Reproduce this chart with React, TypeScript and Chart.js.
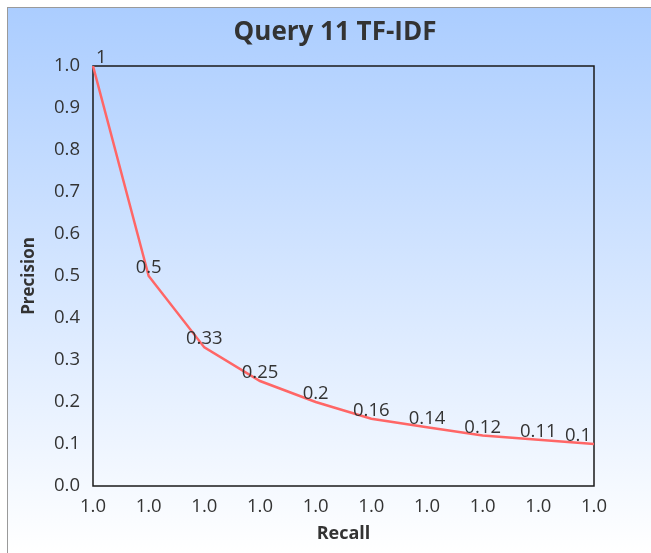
import React, { useEffect, useRef } from "react";
import { Chart, registerables } from "chart.js";

Chart.register(...registerables);

const chartTitle = "Query 11 TF-IDF";
const recallLabels = ["1.0", "1.0", "1.0", "1.0", "1.0", "1.0", "1.0", "1.0", "1.0", "1.0"];
const precisionValues = [1, 0.5, 0.33, 0.25, 0.2, 0.16, 0.14, 0.12, 0.11, 0.1];
const precisionText = ["1", "0.5", "0.33", "0.25", "0.2", "0.16", "0.14", "0.12", "0.11", "0.1"];

const FONT = "'Open Sans', 'Noto Sans', sans-serif";
const TEXT = "#333333";
const LABEL_SIZE = 18.5;

// Frame around the plotting area
const plotFrame = {
  id: "plotFrame",
  beforeDatasetsDraw(chart: any) {
    const { ctx, chartArea } = chart;
    ctx.save();
    ctx.strokeStyle = "#1a1a1a";
    ctx.lineWidth = 1.5;
    ctx.strokeRect(chartArea.left, chartArea.top, chartArea.right - chartArea.left, chartArea.bottom - chartArea.top);
    ctx.restore();
  },
};

// Title centred over the canvas
const titleText = {
  id: "titleText",
  afterDraw(chart: any) {
    const { ctx } = chart;
    ctx.save();
    ctx.font = `bold 26px ${FONT}`;
    ctx.fillStyle = TEXT;
    ctx.textAlign = "center";
    ctx.textBaseline = "alphabetic";
    ctx.fillText(chartTitle, 327, 32);
    ctx.restore();
  },
};

// Value labels above each point, kept inside the plot horizontally
const pointLabels = {
  id: "pointLabels",
  afterDatasetsDraw(chart: any) {
    const { ctx, chartArea } = chart;
    const meta = chart.getDatasetMeta(0);
    ctx.save();
    ctx.font = `${LABEL_SIZE}px ${FONT}`;
    ctx.fillStyle = TEXT;
    ctx.textAlign = "center";
    ctx.textBaseline = "alphabetic";
    meta.data.forEach((pt: any, i: number) => {
      const txt = precisionText[i];
      const w = ctx.measureText(txt).width;
      let x = pt.x;
      x = Math.max(x, chartArea.left + 3 + w / 2);
      x = Math.min(x, chartArea.right - 3 - w / 2);
      ctx.fillText(txt, x, pt.y - 3);
    });
    ctx.restore();
  },
};

export default function App() {
  const canvasRef = useRef<HTMLCanvasElement | null>(null);

  useEffect(() => {
    if (!canvasRef.current) return;
    const chart = new Chart(canvasRef.current, {
      type: "line",
      data: {
        labels: recallLabels,
        datasets: [
          {
            data: precisionValues,
            borderColor: "rgb(255, 102, 102)",
            borderWidth: 2.5,
            pointRadius: 0,
            tension: 0,
            fill: false,
          },
        ],
      },
      options: {
        animation: false,
        responsive: false,
        maintainAspectRatio: false,
        layout: { padding: { top: 58, right: 57, left: 0, bottom: 0 } },
        plugins: {
          legend: { display: false },
          tooltip: { enabled: false },
          title: { display: false },
        },
        scales: {
          x: {
            type: "category",
            offset: false,
            grid: { display: false, drawTicks: false },
            border: { display: false },
            ticks: {
              color: TEXT,
              font: { family: FONT, size: LABEL_SIZE },
              padding: 10,
              maxRotation: 0,
              autoSkip: false,
            },
            title: {
              display: true,
              text: "Recall",
              color: TEXT,
              font: { family: FONT, size: 18, weight: "bold" },
              padding: { top: 2, bottom: 8 },
            },
            afterFit(scale: any) {
              scale.height = 67;
            },
          },
          y: {
            min: 0,
            max: 1,
            grid: { display: false, drawTicks: false },
            border: { display: false },
            ticks: {
              stepSize: 0.1,
              color: TEXT,
              font: { family: FONT, size: LABEL_SIZE },
              padding: 13,
              callback: (v: any) => Number(v).toFixed(1),
            },
            title: {
              display: true,
              text: "Precision",
              color: TEXT,
              font: { family: FONT, size: 17, weight: "bold" },
              padding: { top: 11, bottom: 2 },
            },
            afterFit(scale: any) {
              scale.width = 85;
            },
          },
        },
      },
      plugins: [plotFrame, pointLabels, titleText],
    });
    return () => chart.destroy();
  }, []);

  return (
    <div
      style={{
        position: "fixed",
        left: 7,
        top: 7,
        width: 643,
        height: 545,
        borderTop: "1px solid #9a9a9a",
        borderLeft: "1px solid #9a9a9a",
        background: "linear-gradient(to bottom, #abcdff 0%, #ffffff 100%)",
      }}
    >
      <canvas ref={canvasRef} width={643} height={545} style={{ display: "block" }} />
    </div>
  );
}
